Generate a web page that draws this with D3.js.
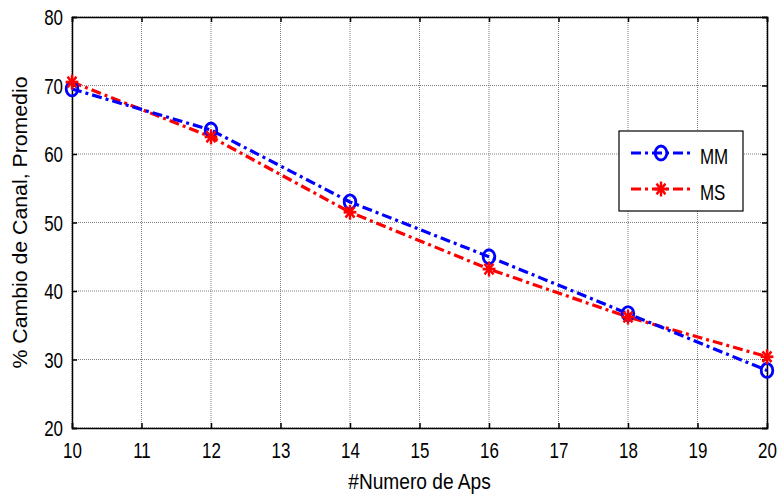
<!DOCTYPE html>
<html><head><meta charset="utf-8">
<script src="https://cdn.jsdelivr.net/npm/d3@7"></script>
<style>body{margin:0;background:#fff}svg{display:block}text{font-family:"Liberation Sans",Arial,sans-serif}</style>
</head><body><svg id="c" width="782" height="501"></svg>
<script>
const xValues = [10, 12, 14, 16, 18, 20];
const mmValues = [69.5, 63.5, 53.0, 45.0, 36.7, 28.4];
const msValues = [70.5, 62.5, 51.5, 43.2, 36.2, 30.4];
const xTicks = [10,11,12,13,14,15,16,17,18,19,20];
const yTicks = [20,30,40,50,60,70,80];
const seriesNames = ["MM","MS"];

const svg = d3.select("#c");
const L=72, R=767, T=17, B=428;
const SX = 0.77; // horizontal text compression
const x = d3.scaleLinear().domain([10,20]).range([L,R]);
const y = d3.scaleLinear().domain([20,80]).range([B,T]);

// grid
const g = svg.append("g");
g.selectAll(".gx").data(xTicks).enter().append("line")
 .attr("x1",d=>x(d)).attr("x2",d=>x(d)).attr("y1",T).attr("y2",B)
 .attr("stroke","#808080").attr("stroke-width",1).attr("stroke-dasharray","1,1");
g.selectAll(".gy").data(yTicks).enter().append("line")
 .attr("x1",L).attr("x2",R).attr("y1",d=>y(d)).attr("y2",d=>y(d))
 .attr("stroke","#808080").attr("stroke-width",1).attr("stroke-dasharray","1,1");

// axes
const ax = d3.axisBottom(x).tickValues(xTicks).tickSize(-5).tickFormat(d3.format("d"));
const ay = d3.axisLeft(y).tickValues(yTicks).tickSize(-5).tickFormat(d3.format("d"));
const gx = svg.append("g").attr("transform",`translate(0,${B})`).call(ax);
const gy = svg.append("g").attr("transform",`translate(${L},0)`).call(ay);
const gxt = svg.append("g").attr("transform",`translate(0,${T})`).call(d3.axisTop(x).tickValues(xTicks).tickSize(-5).tickFormat(""));
const gyr = svg.append("g").attr("transform",`translate(${R},0)`).call(d3.axisRight(y).tickValues(yTicks).tickSize(-5).tickFormat(""));
[gx,gy,gxt,gyr].forEach(a=>{
  a.select(".domain").attr("stroke","#000").attr("stroke-width",1.5);
  a.selectAll(".tick line").attr("stroke","#000").attr("stroke-width",1.5);
  a.selectAll("text").attr("font-size",22).attr("fill","#000").attr("font-family","'Liberation Sans',Arial,sans-serif");
});
gx.selectAll(".tick text").attr("y",30).attr("dy",0).attr("transform",`scale(${SX},1)`);
gy.selectAll(".tick text").attr("x",-9/SX).attr("dy","0.36em").attr("transform",`scale(${SX},1)`);

// lines
const line = d3.line().x((d,i)=>x(xValues[i])).y(d=>y(d));
const dash = "10,4,3,4";
svg.append("path").datum(msValues).attr("d",line).attr("fill","none")
 .attr("stroke","#ff0000").attr("stroke-width",3.2).attr("stroke-dasharray",dash);
svg.append("path").datum(mmValues).attr("d",line).attr("fill","none")
 .attr("stroke","#0000ff").attr("stroke-width",3.2).attr("stroke-dasharray",dash);

function star(sel, cx, cy, r){
  const gg = sel.append("g").attr("transform",`translate(${cx},${cy}) scale(0.85,1)`);
  for(let k=0;k<4;k++){
    const a = k*Math.PI/4;
    gg.append("line").attr("x1",-r*Math.cos(a)).attr("y1",-r*Math.sin(a))
      .attr("x2",r*Math.cos(a)).attr("y2",r*Math.sin(a))
      .attr("stroke","#ff0000").attr("stroke-width",2.8);
  }
}
function circ(sel, cx, cy){
  sel.append("ellipse").attr("cx",cx).attr("cy",cy).attr("rx",5.8).attr("ry",7)
   .attr("fill","none").attr("stroke","#0000ff").attr("stroke-width",2.8);
}
mmValues.forEach((v,i)=>circ(svg, x(xValues[i]), y(v)));
msValues.forEach((v,i)=>star(svg, x(xValues[i]), y(v), 7.5));

// legend
const lg = svg.append("g");
lg.append("rect").attr("x",619).attr("y",131).attr("width",124).attr("height",80)
 .attr("fill","#fff").attr("stroke","#000").attr("stroke-width",1.2);
const rows=[{n:seriesNames[0],c:"#0000ff",y:153},{n:seriesNames[1],c:"#ff0000",y:189}];
rows.forEach((r,i)=>{
  lg.append("line").attr("x1",631).attr("x2",692).attr("y1",r.y).attr("y2",r.y)
    .attr("stroke",r.c).attr("stroke-width",3.2).attr("stroke-dasharray",dash);
  if(i===0) circ(lg,661,r.y); else star(lg,661,r.y,7.5);
  lg.append("text").attr("transform",`translate(700,${r.y+11}) scale(${SX},1)`)
    .attr("font-size",22).text(r.n);
});

// axis labels
svg.append("text").attr("transform",`translate(${(L+R)/2},489) scale(0.87,1)`).attr("text-anchor","middle")
 .attr("font-size",22).text("#Numero de Aps");
svg.append("text").attr("transform",`translate(27,${(T+B)/2}) rotate(-90) scale(0.925,0.85)`).attr("text-anchor","middle")
 .attr("font-size",23).text("% Cambio de Canal, Promedio");
</script></body></html>
